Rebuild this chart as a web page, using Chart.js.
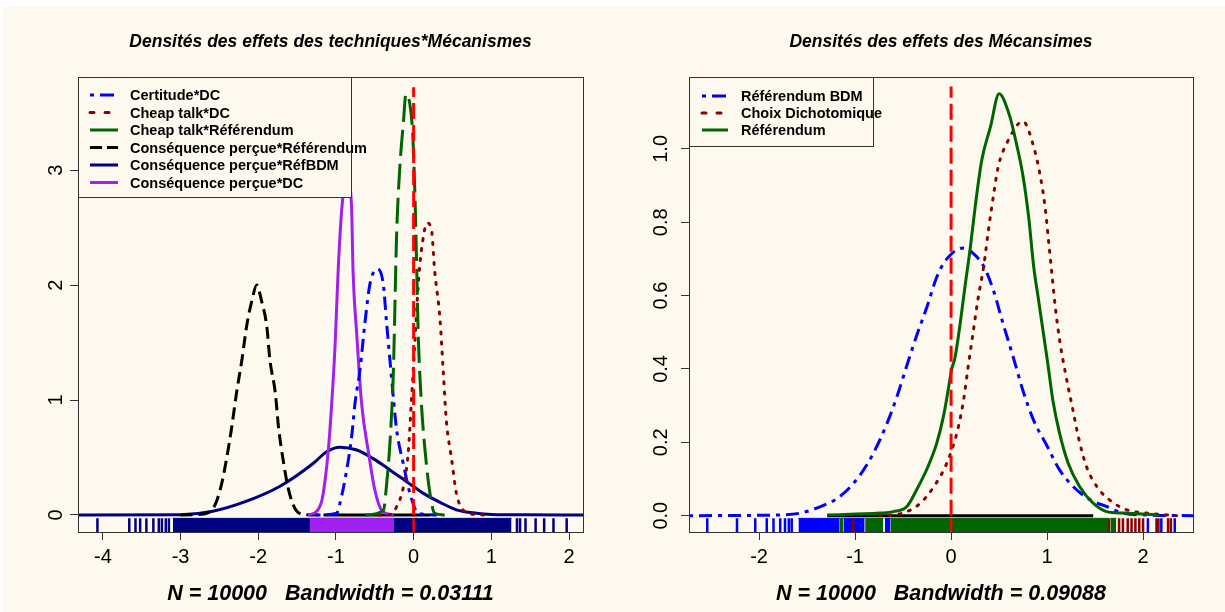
<!DOCTYPE html>
<html>
<head>
<meta charset="utf-8">
<script src="https://cdn.jsdelivr.net/npm/chart.js@4/dist/chart.umd.min.js"></script>
<style>
  html, body { margin: 0; padding: 0; background: #ffffff; }
  #page { position: absolute; left: 3px; top: 7px; width: 1222px; height: 605px; background: #fdf9ee; }
  canvas { position: absolute; top: 0; }
</style>
</head>
<body>
<div id="page"></div>
<canvas id="left" width="612" height="612" style="left:0"></canvas>
<canvas id="right" width="613" height="612" style="left:612px"></canvas>
<script>
const CREAM = '#fdf9ee';
const FONT = "'Liberation Sans', Arial, sans-serif";

// ---------- left panel: techniques * mécanismes ----------
const leftTitle = 'Densités des effets des techniques*Mécanismes';
const leftXLabel = 'N = 10000   Bandwidth = 0.03111';
const leftXLim = [-4.32, 2.18];
const leftYLim = [-0.148, 3.81];
const leftXTicks = [-4, -3, -2, -1, 0, 1, 2];
const leftYTicks = [0, 1, 2, 3];
const leftLegend = ['Certitude*DC', 'Cheap talk*DC', 'Cheap talk*Référendum',
  'Conséquence perçue*Référendum', 'Conséquence perçue*RéfBDM', 'Conséquence perçue*DC'];

const certDC_x = [-1.25, -0.99, -0.949, -0.862, -0.798, -0.755, -0.691, -0.627, -0.562, -0.468, -0.391, -0.348, -0.305, -0.262, -0.219, -0.134, -0.048, 0.06, 0.3];
const certDC_y = [0, 0.015, 0.10, 0.39, 0.68, 0.97, 1.26, 1.67, 2.01, 2.14, 2.01, 1.67, 1.35, 1.03, 0.74, 0.45, 0.19, 0.015, 0];

const cheapDC_x = [-0.45, -0.30, -0.22, -0.13, -0.07, -0.03, 0.02, 0.06, 0.10, 0.175, 0.23, 0.27, 0.34, 0.38, 0.42, 0.49, 0.55, 0.64, 0.79, 0.95];
const cheapDC_y = [0, 0.005, 0.07, 0.25, 0.54, 0.97, 1.55, 2.01, 2.30, 2.54, 2.48, 2.13, 1.70, 1.26, 0.83, 0.48, 0.19, 0.04, 0.005, 0];

const cheapRef_x = [-0.62, -0.39, -0.35, -0.30, -0.26, -0.24, -0.22, -0.18, -0.13, -0.10, -0.05, -0.01, 0.02, 0.04, 0.06, 0.10, 0.15, 0.21, 0.27, 0.40];
const cheapRef_y = [0, 0.04, 0.25, 0.68, 1.26, 1.84, 2.42, 3.0, 3.43, 3.66, 3.58, 3.29, 2.71, 2.13, 1.55, 0.97, 0.54, 0.19, 0.015, 0];

const consRef_x = [-3.0, -2.75, -2.58, -2.49, -2.41, -2.34, -2.28, -2.21, -2.15, -2.08, -2.02, -1.96, -1.89, -1.85, -1.78, -1.74, -1.68, -1.61, -1.53, -1.42, -1.2];
const consRef_y = [0, 0.005, 0.06, 0.22, 0.48, 0.77, 1.06, 1.35, 1.64, 1.87, 2.0, 1.87, 1.64, 1.35, 1.06, 0.77, 0.48, 0.22, 0.06, 0.005, 0];

const consBDM_x = [-4.32, -3.0, -2.6, -2.15, -1.72, -1.29, -1.12, -0.95, -0.73, -0.52, -0.30, -0.09, 0.12, 0.34, 0.55, 0.81, 1.0, 1.46, 2.18];
const consBDM_y = [0, 0.002, 0.03, 0.12, 0.25, 0.45, 0.55, 0.59, 0.565, 0.49, 0.39, 0.29, 0.19, 0.11, 0.045, 0.015, 0.005, 0.001, 0];

const consDC_x = [-1.36, -1.25, -1.18, -1.14, -1.10, -1.06, -1.01, -0.97, -0.92, -0.86, -0.80, -0.78, -0.73, -0.67, -0.58, -0.50, -0.41, -0.26];
const consDC_y = [0, 0.03, 0.13, 0.30, 0.55, 0.91, 1.49, 2.15, 2.70, 2.95, 2.70, 2.13, 1.55, 0.97, 0.54, 0.22, 0.04, 0];

const leftZeroLine_y = [0, 3.72];
const leftBaseBlack_x = [-1.16, 0.21];

const leftRugNavyTicks = [-4.07, -3.66, -3.58, -3.52, -3.44, -3.35, -3.28, -3.24, -3.19, -3.15, 1.33, 1.37, 1.44, 1.57, 1.68, 1.80, 1.97];
const leftRugNavyBands = [[-3.10, 1.26]];
const leftRugPurpleBands = [[-1.34, -0.25]];
const leftRugZero = [0];

// ---------- right panel: mécanismes ----------
const rightTitle = 'Densités des effets des Mécansimes';
const rightXLabel = 'N = 10000   Bandwidth = 0.09088';
const rightXLim = [-2.73, 2.52];
const rightYLim = [-0.0445, 1.196];
const rightXTicks = [-2, -1, 0, 1, 2];
const rightYTicks = [0, 0.2, 0.4, 0.6, 0.8, 1.0];
const rightLegend = ['Référendum BDM', 'Choix Dichotomique', 'Référendum'];

const refBDM_x = [-2.73, -1.78, -1.57, -1.36, -1.16, -0.95, -0.81, -0.67, -0.57, -0.46, -0.36, -0.25, -0.15, -0.045, 0.13, 0.23, 0.34, 0.44, 0.54, 0.65, 0.75, 0.86, 1.0, 1.13, 1.27, 1.45, 1.62, 1.79, 2.04, 2.52];
const refBDM_y = [0, 0.002, 0.007, 0.025, 0.052, 0.11, 0.17, 0.25, 0.32, 0.41, 0.49, 0.57, 0.65, 0.70, 0.73, 0.715, 0.68, 0.615, 0.525, 0.43, 0.34, 0.26, 0.19, 0.125, 0.08, 0.043, 0.025, 0.007, 0.002, 0];

const choixDC_x = [-0.75, -0.6, -0.46, -0.32, -0.18, -0.045, 0.06, 0.13, 0.18, 0.23, 0.28, 0.34, 0.39, 0.44, 0.49, 0.58, 0.75, 0.86, 0.93, 0.98, 1.015, 1.05, 1.085, 1.13, 1.19, 1.26, 1.33, 1.41, 1.52, 1.65, 1.83, 2.04, 2.35];
const choixDC_y = [0, 0.002, 0.011, 0.034, 0.079, 0.143, 0.225, 0.315, 0.41, 0.50, 0.59, 0.68, 0.78, 0.87, 0.95, 1.015, 1.075, 1.006, 0.925, 0.84, 0.75, 0.66, 0.57, 0.48, 0.39, 0.30, 0.21, 0.134, 0.079, 0.043, 0.016, 0.007, 0];

const referendum_x = [-1.29, -0.74, -0.60, -0.46, -0.36, -0.24, -0.15, -0.08, -0.03, 0.007, 0.04, 0.09, 0.145, 0.20, 0.25, 0.32, 0.41, 0.50, 0.61, 0.68, 0.75, 0.81, 0.86, 0.91, 0.96, 1.01, 1.06, 1.13, 1.22, 1.34, 1.48, 1.62, 1.79, 2.17];
const referendum_y = [0.002, 0.007, 0.011, 0.025, 0.07, 0.134, 0.197, 0.27, 0.343, 0.40, 0.43, 0.515, 0.625, 0.73, 0.84, 0.97, 1.06, 1.15, 1.09, 1.015, 0.925, 0.81, 0.68, 0.59, 0.50, 0.41, 0.315, 0.225, 0.143, 0.079, 0.034, 0.011, 0.007, 0.002];

const rightZeroLine_y = [0, 1.17];
const rightBaseBlack_x = [-1.29, 1.48];

const rightRugBlueTicks = [-2.54, -2.23, -2.04, -1.92, -1.85, -1.78, -1.73, -1.69, -1.66, 2.05, 2.19, 2.33];
const rightRugBlueBands = [[-1.59, -1.16], [-1.12, -0.90], [-0.69, -0.63]];
const rightRugGreenBands = [[-1.16, -1.12], [-0.895, -0.705], [-0.63, 1.64], [1.66, 1.72]];
const rightRugDarkRedTicks = [-1.02, 1.645, 1.75, 1.79, 1.84, 1.88, 1.92, 1.96, 2.0, 2.14, 2.16, 2.26, 2.29];
const rightRugZero = [0];

// ---------- helpers ----------
const zip = (xs, ys) => xs.map((x, i) => ({ x, y: ys[i] }));

function density(label, xs, ys, color, dash, cap) {
  return {
    label, data: zip(xs, ys), borderColor: color, backgroundColor: color,
    borderWidth: 3, borderDash: dash, borderCapStyle: cap || 'butt',
    pointRadius: 0, fill: false, cubicInterpolationMode: 'monotone'
  };
}

function straight(xs, ys, color, dash) {
  return {
    label: '', data: zip(xs, ys), borderColor: color, borderWidth: 3,
    borderDash: dash, pointRadius: 0, fill: false, tension: 0
  };
}

// rug ticks sit below y = 0, from the bottom of the frame up 3% of the range
function rugTop(yLim) { return yLim[0] + 0.03 * (yLim[1] - yLim[0]); }

function rugTicks(xs, color, yLim) {
  const data = [];
  xs.forEach(x => data.push({ x, y: yLim[0] }, { x, y: rugTop(yLim) }, { x, y: null }));
  return { label: '', data, borderColor: color, borderWidth: 2.5, pointRadius: 0, fill: false, tension: 0, spanGaps: false };
}

function rugBands(bands, color, yLim) {
  return bands.map(b => ({
    label: '', data: [{ x: b[0], y: rugTop(yLim) }, { x: b[1], y: rugTop(yLim) }],
    borderColor: color, backgroundColor: color, borderWidth: 1,
    pointRadius: 0, tension: 0, fill: { value: yLim[0] }
  }));
}

// frame around the plotting region plus the boxed legend in its top-left corner
const frameLegend = {
  id: 'frameLegend',
  afterDatasetsDraw(chart, args, opts) {
    const { ctx, chartArea: a } = chart;
    ctx.save();
    ctx.strokeStyle = '#333';
    ctx.lineWidth = 1;
    ctx.setLineDash([]);
    ctx.strokeRect(a.left + 0.5, a.top + 0.5, a.width, a.height);

    const x0 = a.left, y0 = a.top;
    ctx.fillStyle = CREAM;
    ctx.fillRect(x0, y0, opts.width, opts.height);
    ctx.strokeRect(x0 + 0.5, y0 + 0.5, opts.width, opts.height);

    ctx.font = 'bold 14.5px ' + FONT;
    ctx.textBaseline = 'middle';
    ctx.textAlign = 'left';
    opts.labels.forEach((name, i) => {
      const ds = chart.data.datasets.find(d => d.label === name);
      const y = y0 + opts.first + i * opts.step;
      ctx.beginPath();
      ctx.strokeStyle = ds.borderColor;
      ctx.lineWidth = 3;
      ctx.lineCap = ds.borderCapStyle || 'butt';
      ctx.setLineDash(opts.dashes[i]);
      ctx.moveTo(x0 + opts.lineFrom, y);
      ctx.lineTo(x0 + opts.lineTo, y);
      ctx.stroke();
      ctx.fillStyle = '#000';
      ctx.fillText(name, x0 + opts.textAt, y + 1);
    });
    ctx.restore();
  }
};

function axes(xLim, yLim, xTicks, yTicks, xLabel, yWidth, yPad, yFmt) {
  const tickGrid = { display: true, drawOnChartArea: false, drawTicks: true, tickLength: 8, tickColor: '#333', lineWidth: 1 };
  return {
    x: {
      type: 'linear', min: xLim[0], max: xLim[1],
      afterBuildTicks: s => { s.ticks = xTicks.map(v => ({ value: v })); },
      afterFit: s => { s.height = 80; s.paddingLeft = 0; s.paddingRight = 0; },
      grid: tickGrid, border: { display: false },
      ticks: { autoSkip: false, maxRotation: 0, minRotation: 0, padding: 5, color: '#000',
        font: { size: 20 }, callback: v => String(v) },
      title: { display: true, text: xLabel, color: '#000', padding: { top: 0, bottom: 5 },
        font: { size: 21.5, weight: 'bold', style: 'italic' } }
    },
    y: {
      type: 'linear', min: yLim[0], max: yLim[1],
      afterBuildTicks: s => { s.ticks = yTicks.map(v => ({ value: v })); },
      afterFit: s => { s.width = yWidth; s.paddingTop = 0; s.paddingBottom = 0; },
      grid: tickGrid, border: { display: false },
      ticks: { autoSkip: false, minRotation: 90, maxRotation: 90, crossAlign: 'center',
        padding: yPad, color: '#000', font: { size: 20 }, callback: yFmt }
    }
  };
}

function makeChart(id, datasets, scales, title, legendOpts, rightPad) {
  return new Chart(document.getElementById(id), {
    type: 'line',
    data: { datasets },
    options: {
      responsive: false, animation: false, events: [],
      layout: { padding: { left: 0, top: 0, bottom: 0, right: rightPad } },
      scales,
      plugins: {
        legend: { display: false },
        tooltip: { enabled: false },
        title: { display: true, text: title, fullSize: false, color: '#000',
          font: { size: 17.5, weight: 'bold', style: 'italic' }, padding: { top: 31.5, bottom: 24.5 } },
        frameLegend: legendOpts
      }
    },
    plugins: [frameLegend]
  });
}

Chart.defaults.font.family = FONT;
Chart.defaults.color = '#000';

const BLUE = '#0000ff', DARKRED = '#8b0000', GREEN = '#006400', NAVY = '#000080', PURPLE = '#a020f0', RED = '#ff0000';
const DOTDASH = [4, 6, 13, 6], DOTTED = [2, 8], LONGDASH = [26, 8], DASHED = [12, 6], ZERODASH = [16, 6];

// datasets are listed top layer first
makeChart('left', [
  straight([0, 0], leftZeroLine_y, RED, ZERODASH),
  density('Cheap talk*Référendum', cheapRef_x, cheapRef_y, GREEN, LONGDASH),
  density('Cheap talk*DC', cheapDC_x, cheapDC_y, DARKRED, DOTTED, 'round'),
  density('Certitude*DC', certDC_x, certDC_y, BLUE, DOTDASH),
  density('Conséquence perçue*DC', consDC_x, consDC_y, PURPLE, []),
  straight(leftBaseBlack_x, [0, 0], '#000', []),
  density('Conséquence perçue*Référendum', consRef_x, consRef_y, '#000', DASHED),
  density('Conséquence perçue*RéfBDM', consBDM_x, consBDM_y, NAVY, []),
  rugTicks(leftRugZero, RED, leftYLim),
  ...rugBands(leftRugPurpleBands, PURPLE, leftYLim),
  ...rugBands(leftRugNavyBands, NAVY, leftYLim),
  rugTicks(leftRugNavyTicks, NAVY, leftYLim)
], axes(leftXLim, leftYLim, leftXTicks, leftYTicks, leftXLabel, 78, 8, v => String(v)), leftTitle, {
  labels: leftLegend, width: 273, height: 120, first: 18, step: 17.5, lineFrom: 12, lineTo: 40, textAt: 52,
  dashes: [[4, 6, 14, 6], [4, 11], [], [12, 5], [], []]
}, 29);

makeChart('right', [
  straight([0, 0], rightZeroLine_y, RED, ZERODASH),
  density('Référendum', referendum_x, referendum_y, GREEN, []),
  density('Choix Dichotomique', choixDC_x, choixDC_y, DARKRED, DOTTED, 'round'),
  density('Référendum BDM', refBDM_x, refBDM_y, BLUE, DOTDASH),
  straight(rightBaseBlack_x, [0, 0], '#000', []),
  rugTicks(rightRugZero, RED, rightYLim),
  ...rugBands(rightRugGreenBands, GREEN, rightYLim),
  rugTicks(rightRugDarkRedTicks, DARKRED, rightYLim),
  ...rugBands(rightRugBlueBands, BLUE, rightYLim),
  rugTicks(rightRugBlueTicks, BLUE, rightYLim)
], axes(rightXLim, rightYLim, rightXTicks, rightYTicks, rightXLabel, 77, 6, v => v.toFixed(1)), rightTitle, {
  labels: rightLegend, width: 184, height: 69, first: 19, step: 17, lineFrom: 13, lineTo: 39, textAt: 52,
  dashes: [[4, 6, 14, 6], [4, 11], []]
}, 32);
</script>
</body>
</html>
